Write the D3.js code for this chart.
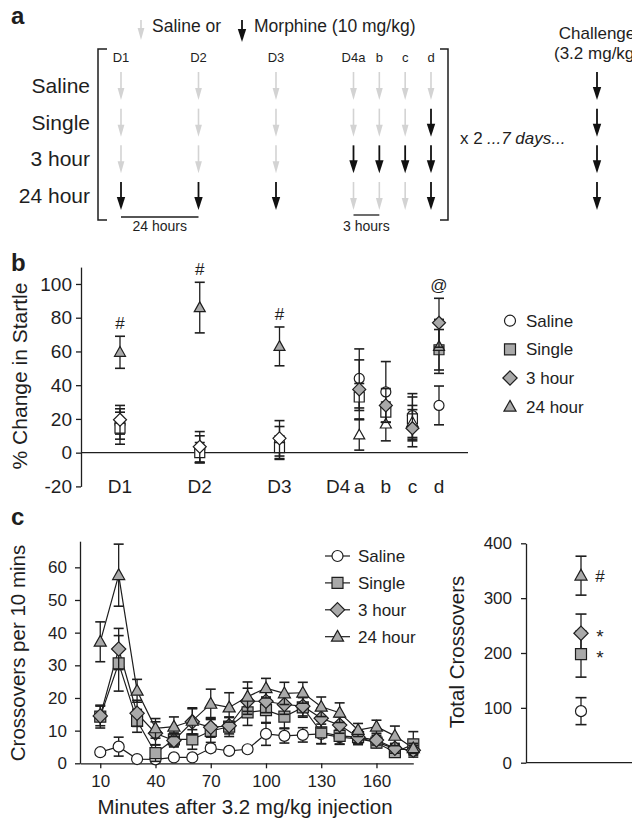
<!DOCTYPE html>
<html>
<head>
<meta charset="utf-8">
<script src="https://cdn.jsdelivr.net/npm/d3@7"></script>
<style>
  body { margin: 0; background: #fff; }
  svg text { font-family: "Liberation Sans", Arial, Helvetica, sans-serif; fill: #1e1e1e; }
</style>
</head>
<body>
<div id="chart"></div>
<script>
// ---------- data ----------
var groups = ["Saline", "Single", "3 hour", "24 hour"];
var shapes = {"Saline": "circle", "Single": "square", "3 hour": "diamond", "24 hour": "triangle"};

// panel a: injection schedule, 1 = morphine, 0 = saline
var schedCols  = ["D1", "D2", "D3", "D4a", "b", "c", "d"];
var schedSlots = [0, 3, 6, 9, 10, 11, 12];
var schedule = {
  "Saline":  [0, 0, 0, 0, 0, 0, 0],
  "Single":  [0, 0, 0, 0, 0, 0, 1],
  "3 hour":  [0, 0, 0, 1, 1, 1, 1],
  "24 hour": [1, 1, 1, 0, 0, 0, 1]
};

// panel b: % change in startle
var startleLabels = ["D1", "D2", "D3", "a", "b", "c", "d"];
var startleMean = {
  "Saline":  [17, 2, 6, 44, 36, 22, 28],
  "Single":  [14.5, 0, 3, 33, 24, 20, 61],
  "3 hour":  [19.5, 3.5, 8.5, 37.5, 28, 14.5, 77],
  "24 hour": [59.5, 86, 63, 10.5, 17, 18, 63]
};
var startleSem = {
  "Saline":  [9, 8, 9.5, 17.5, 18, 13, 11.5],
  "Single":  [9.5, 6, 7, 8, 6, 13, 12],
  "3 hour":  [8.5, 9, 10.5, 17.5, 10, 11, 14.5],
  "24 hour": [9.5, 15, 11.5, 9, 10, 10, 16]
};
var startleSig = ["#", "#", "#", "", "", "", "@"];
var startleTicks = [-20, 0, 20, 40, 60, 80, 100];

// panel c: crossovers per 10 min
var minutes = [10, 20, 30, 40, 50, 60, 70, 80, 90, 100, 110, 120, 130, 140, 150, 160, 170, 180];
var crossMean = {
  "Saline":  [3.4, 5.1, 1.3, 1.2, 1.8, 1.8, 4.6, 3.8, 4.3, 9.0, 8.4, 8.7, 9.0, 8.0, 7.5, 6.5, 4.5, 4.0],
  "Single":  [14.3, 30.6, 13, 3.1, 7.3, 7.3, 9.9, 11.2, 15.6, 16.3, 14.3, 17.1, 9.5, 8.4, 8, 6.3, 3.4, 5.8],
  "3 hour":  [14.5, 35, 15.3, 9.2, 7, 12.7, 11, 11.5, 19, 19, 18, 17.5, 13.8, 11.7, 8, 7.1, 4.6, 4],
  "24 hour": [37.2, 57.6, 22.2, 10.7, 11.2, 13, 18.2, 17.1, 20.4, 23, 21.4, 21.6, 17.3, 15.5, 10.2, 11.2, 8.4, 4.6]
};
var crossSem = {
  "Saline":  [0.8, 2.9, 0.6, 0.5, 0.6, 0.6, 1, 0.8, 0.8, 3.5, 2.2, 2.2, 3, 2.2, 1.8, 1.5, 1.2, 1.2],
  "Single":  [3.5, 8.5, 3.5, 2.5, 2, 3, 3.5, 3, 4, 4, 3.5, 3, 3.5, 2.5, 2, 1.5, 1.5, 3.9],
  "3 hour":  [3, 6.3, 4, 3.5, 2, 4, 3, 2.5, 4, 3.5, 3, 3, 3, 2.5, 2, 1.5, 1.5, 1.5],
  "24 hour": [6.1, 9.5, 3.5, 3, 3, 4, 4.5, 4.5, 4.5, 3, 3.4, 3.2, 3, 3, 2, 2, 3, 1.5]
};
var crossTicksX = [10, 40, 70, 100, 130, 160];
var crossTicksY = [0, 10, 20, 30, 40, 50, 60];

// panel c right: total crossovers
var totalMean = [94, 198, 236, 341];
var totalSem  = [24.6, 42, 35, 35.5];
var totalSig  = ["", "*", "*", "#"];
var totalTicks = [0, 100, 200, 300, 400];

// ---------- setup ----------
var INK = "#1e1e1e", GREY = "#a9a9a9", LIGHT = "#d3d3d3";
var svg = d3.select("#chart").append("svg")
  .attr("width", 632).attr("height", 819);

function symbolPath(shape, s) {
  if (shape == "circle")
    return "M" + s + ",0A" + s + "," + s + " 0 1,1 " + (-s) + ",0A" + s + "," + s + " 0 1,1 " + s + ",0Z";
  if (shape == "square")
    return "M" + (-s) + "," + (-s) + "H" + s + "V" + s + "H" + (-s) + "Z";
  if (shape == "diamond") {
    var d = s * 1.3;
    return "M0," + (-d) + "L" + d + ",0L0," + d + "L" + (-d) + ",0Z";
  }
  var h = s * 1.15;
  return "M0," + (-h) + "L" + (s * 1.1) + "," + (s * 0.8) + "L" + (-s * 1.1) + "," + (s * 0.8) + "Z";
}

function drawSymbol(g, shape, x, y, s, fill) {
  g.append("path")
    .attr("transform", "translate(" + x + "," + y + ")")
    .attr("d", symbolPath(shape, s))
    .attr("fill", fill).attr("stroke", INK).attr("stroke-width", 1.2);
}

function errBar(g, x, yTop, yBot, cap) {
  g.append("line").attr("x1", x).attr("x2", x).attr("y1", yTop).attr("y2", yBot)
    .attr("stroke", INK).attr("stroke-width", 1.3);
  [yTop, yBot].forEach(function(yy) {
    g.append("line").attr("x1", x - cap).attr("x2", x + cap).attr("y1", yy).attr("y2", yy)
      .attr("stroke", INK).attr("stroke-width", 1.6);
  });
}

function styleAxis(g, fs) {
  g.selectAll("path.domain").attr("stroke", INK).attr("stroke-width", 1.3);
  g.selectAll(".tick line").attr("stroke", INK).attr("stroke-width", 1.3);
  g.selectAll(".tick text").style("font-size", fs + "px").attr("fill", INK);
}

function arrow(g, x, y0, y1, morph) {
  var col = morph ? "#111" : LIGHT;
  var hl = morph ? 13 : 12, hw = morph ? 4.2 : 3.4;
  g.append("line").attr("x1", x).attr("x2", x).attr("y1", y0).attr("y2", y1 - hl + 2)
    .attr("stroke", col).attr("stroke-width", morph ? 1.8 : 1.6);
  g.append("path")
    .attr("d", "M" + (x - hw) + "," + (y1 - hl) + "L" + (x + hw) + "," + (y1 - hl) + "L" + x + "," + y1 + "Z")
    .attr("fill", col);
}

function panelLetter(t, x, y) {
  svg.append("text").attr("x", x).attr("y", y).text(t)
    .style("font-size", "24px").style("font-weight", "bold");
}

// ---------- panel a ----------
panelLetter("a", 11, 24);
var ga = svg.append("g");
var aX = d3.scaleLinear().domain([0, 12]).range([121, 431]);
var aY = d3.scalePoint().domain(groups).range([86, 196]);
var challengeX = 597;

arrow(ga, 141, 20, 40, 0);
ga.append("text").attr("x", 152).attr("y", 32).text("Saline  or").style("font-size", "17.5px");
arrow(ga, 242, 20, 42, 1);
ga.append("text").attr("x", 254).attr("y", 32).text("Morphine (10 mg/kg)").style("font-size", "17.5px");

ga.append("path").attr("d", "M107,49H98V220H107").attr("fill", "none").attr("stroke", INK).attr("stroke-width", 1.5);
ga.append("path").attr("d", "M440,49H448V220H440").attr("fill", "none").attr("stroke", INK).attr("stroke-width", 1.5);

schedCols.forEach(function(c, i) {
  ga.append("text").attr("x", aX(schedSlots[i])).attr("y", 62).attr("text-anchor", "middle")
    .text(c).style("font-size", "13px");
});

groups.forEach(function(g) {
  ga.append("text").attr("x", 90).attr("y", aY(g) + 7).attr("text-anchor", "end")
    .text(g).style("font-size", "21px");
  schedule[g].forEach(function(m, i) {
    arrow(ga, aX(schedSlots[i]), aY(g) - 14, aY(g) + 14, m);
  });
  arrow(ga, challengeX, aY(g) - 14, aY(g) + 14, 1);
});

ga.append("text").attr("x", 460).attr("y", 144).text("x 2").style("font-size", "17px");
ga.append("text").attr("x", 487).attr("y", 144).text("...7 days...")
  .style("font-size", "17px").style("font-style", "italic");
ga.append("text").attr("x", challengeX).attr("y", 39).attr("text-anchor", "middle")
  .text("Challenge").style("font-size", "17px");
ga.append("text").attr("x", challengeX).attr("y", 59).attr("text-anchor", "middle")
  .text("(3.2 mg/kg)").style("font-size", "17px");

ga.append("line").attr("x1", aX(0)).attr("x2", aX(3)).attr("y1", 217).attr("y2", 217)
  .attr("stroke", INK).attr("stroke-width", 1.3);
ga.append("text").attr("x", (aX(0) + aX(3)) / 2).attr("y", 231).attr("text-anchor", "middle")
  .text("24 hours").style("font-size", "14px");
ga.append("line").attr("x1", aX(9)).attr("x2", aX(10)).attr("y1", 215).attr("y2", 215)
  .attr("stroke", INK).attr("stroke-width", 1.3);
ga.append("text").attr("x", (aX(9) + aX(10)) / 2).attr("y", 231).attr("text-anchor", "middle")
  .text("3 hours").style("font-size", "14px");

// ---------- panel b ----------
panelLetter("b", 11, 271);
var gb = svg.append("g");
var bX = d3.scaleLinear().domain([0, 12]).range([120, 439]);
var bY = d3.scaleLinear().domain([-20, 110]).range([486.4, 267.1]);

var bAxis = gb.append("g").attr("transform", "translate(81,0)")
  .call(d3.axisLeft(bY).tickValues(startleTicks).tickSize(5).tickSizeOuter(0).tickPadding(4)
    .tickFormat(function(d) { return String(d); }));
styleAxis(bAxis, 19);

gb.append("line").attr("x1", 81).attr("x2", 468).attr("y1", bY(0)).attr("y2", bY(0))
  .attr("stroke", INK).attr("stroke-width", 1.3);

startleLabels.forEach(function(l, i) {
  gb.append("text").attr("x", bX(schedSlots[i])).attr("y", 493).attr("text-anchor", "middle")
    .text(l).style("font-size", "19px");
});
gb.append("text").attr("x", bX(9) - 9).attr("y", 493).attr("text-anchor", "end")
  .text("D4").style("font-size", "19px");

gb.append("text").attr("transform", "translate(27,376) rotate(-90)").attr("text-anchor", "middle")
  .text("% Change in Startle").style("font-size", "21px");

["Saline", "Single", "24 hour", "3 hour"].forEach(function(g) {
  startleMean[g].forEach(function(m, i) {
    var x = bX(schedSlots[i]), s = startleSem[g][i];
    errBar(gb, x, bY(m + s), bY(m - s), 5);
    drawSymbol(gb, shapes[g], x, bY(m), 5, schedule[g][i] ? GREY : "#fff");
  });
});

startleSig.forEach(function(t, i) {
  if (!t) return;
  var top = d3.max(groups, function(g) { return startleMean[g][i] + startleSem[g][i]; });
  gb.append("text").attr("x", bX(schedSlots[i])).attr("y", bY(top) - 7).attr("text-anchor", "middle")
    .text(t).style("font-size", "17px");
});

var bLeg = d3.scalePoint().domain(groups).range([320.7, 406.7]);
groups.forEach(function(g) {
  drawSymbol(gb, shapes[g], 510, bLeg(g), 5.5, g == "Saline" ? "#fff" : GREY);
  gb.append("text").attr("x", 526).attr("y", bLeg(g) + 6).text(g).style("font-size", "17px");
});

// ---------- panel c (time course) ----------
panelLetter("c", 11, 525);
var gc = svg.append("g");
var cX = d3.scaleLinear().domain([-1, 180]).range([80, 413.3]);
var cY = d3.scaleLinear().domain([0, 68]).range([763.3, 541.2]);

var cxAxis = gc.append("g").attr("transform", "translate(0," + cY(0) + ")")
  .call(d3.axisBottom(cX).tickValues(crossTicksX).tickSize(5).tickSizeOuter(0).tickPadding(7));
styleAxis(cxAxis, 17);
var cyAxis = gc.append("g").attr("transform", "translate(" + cX(-1) + ",0)")
  .call(d3.axisLeft(cY).tickValues(crossTicksY).tickSize(5).tickSizeOuter(0).tickPadding(8));
styleAxis(cyAxis, 17);

gc.append("text").attr("transform", "translate(24.5,653) rotate(-90)").attr("text-anchor", "middle")
  .text("Crossovers per 10 mins").style("font-size", "20.5px");
gc.append("text").attr("x", 245).attr("y", 814).attr("text-anchor", "middle")
  .text("Minutes after 3.2 mg/kg injection").style("font-size", "20.5px");

var line = d3.line().x(function(d) { return cX(d[0]); }).y(function(d) { return cY(d[1]); });
groups.forEach(function(g) {
  gc.append("path").datum(d3.zip(minutes, crossMean[g])).attr("d", line)
    .attr("fill", "none").attr("stroke", INK).attr("stroke-width", 1.2);
});
groups.forEach(function(g) {
  crossMean[g].forEach(function(m, i) {
    var s = crossSem[g][i];
    errBar(gc, cX(minutes[i]), cY(m + s), cY(m - s), 5);
  });
  crossMean[g].forEach(function(m, i) {
    drawSymbol(gc, shapes[g], cX(minutes[i]), cY(m), 5.5, g == "Saline" ? "#fff" : GREY);
  });
});

var cLeg = d3.scalePoint().domain(groups).range([556, 636.7]);
groups.forEach(function(g) {
  gc.append("line").attr("x1", 325).attr("x2", 350).attr("y1", cLeg(g)).attr("y2", cLeg(g))
    .attr("stroke", INK).attr("stroke-width", 1.2);
  drawSymbol(gc, shapes[g], 337.5, cLeg(g), 5.5, g == "Saline" ? "#fff" : GREY);
  gc.append("text").attr("x", 358).attr("y", cLeg(g) + 6).text(g).style("font-size", "17px");
});

// ---------- panel c (totals) ----------
var gt = svg.append("g");
var tX = d3.scalePoint().domain(["all"]).range([526, 636]);
var tY = d3.scaleLinear().domain([0, 400]).range([762.7, 543.3]);
var tyAxis = gt.append("g").attr("transform", "translate(526,0)")
  .call(d3.axisLeft(tY).tickValues(totalTicks).tickSize(5).tickSizeOuter(0).tickPadding(9));
styleAxis(tyAxis, 17);
gt.append("line").attr("x1", 526).attr("x2", 632).attr("y1", tY(0)).attr("y2", tY(0))
  .attr("stroke", INK).attr("stroke-width", 1.3);
gt.append("text").attr("transform", "translate(464,652) rotate(-90)").attr("text-anchor", "middle")
  .text("Total Crossovers").style("font-size", "20.5px");

groups.forEach(function(g, i) {
  var x = tX("all"), m = totalMean[i], s = totalSem[i];
  errBar(gt, x, tY(m + s), tY(m - s), 5.5);
});
groups.forEach(function(g, i) {
  drawSymbol(gt, shapes[g], tX("all"), tY(totalMean[i]), 5.5, g == "Saline" ? "#fff" : GREY);
  if (totalSig[i])
    gt.append("text").attr("x", tX("all") + 19).attr("y", tY(totalMean[i]) + (totalSig[i] == "*" ? 10 : 6))
      .attr("text-anchor", "middle").text(totalSig[i])
      .style("font-size", totalSig[i] == "*" ? "19px" : "17px");
});
</script>
</body>
</html>
